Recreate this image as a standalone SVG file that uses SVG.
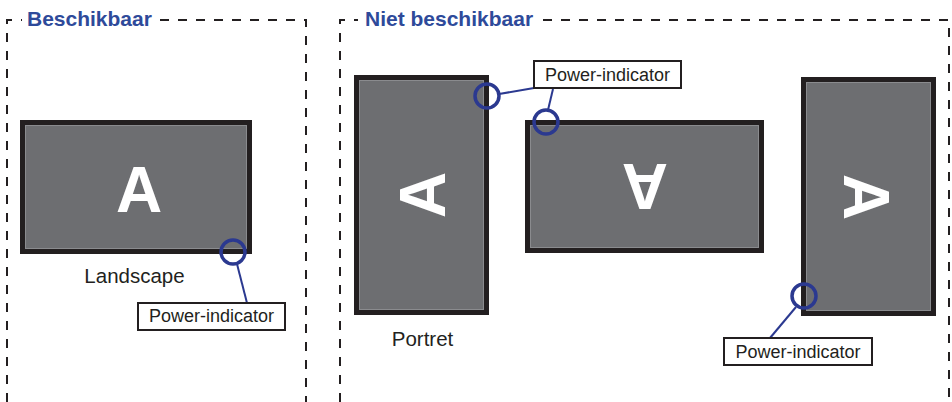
<svg xmlns="http://www.w3.org/2000/svg" width="952" height="402" viewBox="0 0 952 402">
<style>
.frame{fill:none;stroke:#231f20;stroke-width:2;stroke-dasharray:9 9}
.title{font-family:"Liberation Sans",Arial,sans-serif;font-weight:bold;font-size:21px;fill:#2e4a9a}
.mon{fill:#6d6e71;stroke:#231f20;stroke-width:5}
.inner{fill:none;stroke:#8a8b8e;stroke-width:1}
.big{font-family:"Liberation Sans",Arial,sans-serif;font-weight:bold;font-size:64px;fill:#ffffff;text-anchor:middle}
.lbl{font-family:"Liberation Sans",Arial,sans-serif;font-size:20.5px;fill:#231f20;text-anchor:middle}
.box{fill:#ffffff;stroke:#231f20;stroke-width:2}
.boxt{font-family:"Liberation Sans",Arial,sans-serif;font-size:18px;fill:#231f20;text-anchor:middle}
.ring{fill:none;stroke:#2b3990;stroke-width:3.5}
.lead{fill:none;stroke:#2b3990;stroke-width:2}
</style>
<rect width="952" height="402" fill="#ffffff"/>
<g id="frame-beschikbaar">
<path class="frame" d="M7 402 V20 H22"/>
<path class="frame" d="M160 20 H306 V402"/>
<text class="title" x="27" y="26">Beschikbaar</text>
</g>
<g id="frame-niet-beschikbaar">
<path class="frame" d="M340 402 V20 H358"/>
<path class="frame" d="M543 20 H949 V402"/>
<text class="title" x="365" y="26">Niet beschikbaar</text>
</g>
<g id="monitor-landscape">
<rect class="mon" x="22.5" y="122.5" width="227" height="129"/>
<rect class="inner" x="25.5" y="125.5" width="221" height="123"/>
<text class="big" transform="translate(139,188.5)" y="23">A</text>
<text class="lbl" x="134.5" y="283">Landscape</text>
</g>
<g id="monitor-portret">
<rect class="mon" x="356.5" y="77.5" width="130" height="235"/>
<rect class="inner" x="359.5" y="80.5" width="124" height="229"/>
<text class="big" transform="translate(422,195) rotate(-90)" y="23">A</text>
<text class="lbl" x="422.5" y="346">Portret</text>
</g>
<g id="monitor-upside-down">
<rect class="mon" x="527.5" y="122.5" width="234" height="128"/>
<rect class="inner" x="530.5" y="125.5" width="228" height="122"/>
<text class="big" transform="translate(645,187) rotate(180)" y="23">A</text>
</g>
<g id="monitor-portret-right">
<rect class="mon" x="803.5" y="79.5" width="130" height="234"/>
<rect class="inner" x="806.5" y="82.5" width="124" height="228"/>
<text class="big" transform="translate(867,197) rotate(90)" y="23">A</text>
</g>
<g id="connectors">
<line class="lead" x1="237" y1="264" x2="247" y2="303"/>
<line class="lead" x1="499" y1="94" x2="534" y2="88"/>
<line class="lead" x1="548" y1="110" x2="553" y2="89"/>
<line class="lead" x1="796" y1="307" x2="770" y2="338"/>
</g>
<g id="indicator-1">
<circle class="ring" cx="233" cy="252" r="12"/>
<rect class="box" x="138" y="303" width="147" height="27"/>
<text class="boxt" x="211.5" y="322">Power-indicator</text>
</g>
<g id="indicator-2">
<circle class="ring" cx="487" cy="96" r="12"/>
<circle class="ring" cx="546" cy="122" r="12"/>
<rect class="box" x="534" y="61" width="147" height="27"/>
<text class="boxt" x="607.5" y="81">Power-indicator</text>
</g>
<g id="indicator-3">
<circle class="ring" cx="804" cy="296" r="12"/>
<rect class="box" x="724" y="338" width="148" height="27"/>
<text class="boxt" x="798" y="358">Power-indicator</text>
</g>
</svg>
